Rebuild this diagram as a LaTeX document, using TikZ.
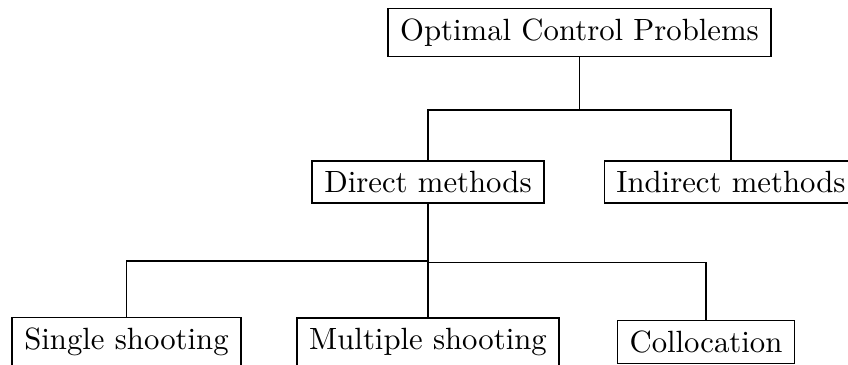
\documentclass[tikz,border=0pt]{standalone}
\begin{document}
\begin{tikzpicture}[x=0.3253pt,y=-0.3253pt,
  box/.style={draw, inner xsep=4pt, inner ysep=3.3pt, line width=0.4pt},
  conn/.style={line width=0.4pt}]
\useasboundingbox (0,0) rectangle (848,365);
\node[box] (ocp) at (579.5,32.5) {Optimal Control Problems};
\node[box] (dir) at (428,182) {Direct methods};
\node[box] (ind) at (731,182) {Indirect methods};
\node[box] (ss) at (126.5,342) {Single shooting};
\node[box] (ms) at (428,342) {Multiple shooting};
\node[box] (col) at (706,342) {Collocation};
\coordinate (j1) at (579.5,110);
\coordinate (j2) at (428,261);
\coordinate (j3) at (428,262.5);
\draw[conn] (ocp.south) -- (j1);
\draw[conn] (j1) -| (dir.north);
\draw[conn] (j1) -| (ind.north);
\draw[conn] (dir.south) -- (ms.north);
\draw[conn] (j2) -| (ss.north);
\draw[conn] (j3) -| (col.north);
\end{tikzpicture}
\end{document}
